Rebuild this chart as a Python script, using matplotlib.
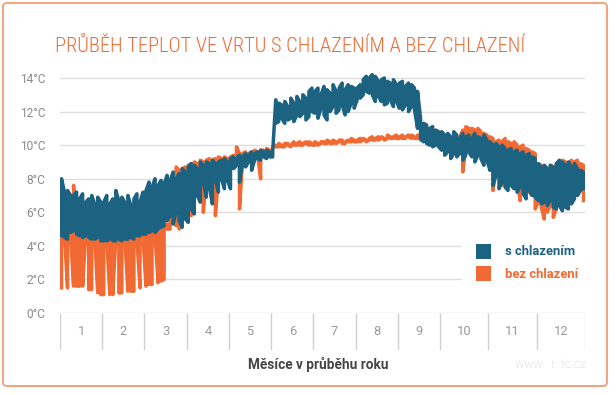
import matplotlib
matplotlib.use('Agg')
import matplotlib.pyplot as plt
from matplotlib.patches import FancyBboxPatch, Rectangle
from matplotlib.transforms import IdentityTransform
import numpy as np

# --- data (°C) ---
# každý měsíc je rozdělen na úseky, pro každý úsek max a min teploty
months = [1, 2, 3, 4, 5, 6, 7, 8, 9, 10, 11, 12]
samples_per_month = [14, 14, 14, 14, 14, 14, 14, 14, 14, 16, 16, 16]

s_chlazenim_max = [
    8.0, 7.2, 7.3, 7.0, 7.0, 7.2, 6.8, 7.1, 6.6, 6.8, 7.0, 6.5, 6.9, 6.6,
    6.6, 7.0, 6.5, 6.8, 7.3, 6.7, 6.9, 6.6, 7.0, 6.4, 6.8, 7.1, 6.6, 7.2,
    7.3, 7.8, 7.5, 8.0, 7.6, 7.9, 7.7, 8.2, 7.9, 8.4, 8.0, 8.3, 8.6, 8.4,
    8.7, 8.9, 8.8, 8.6, 9.0, 8.8, 9.0, 8.9, 9.1, 8.9, 9.0, 9.1, 9.2, 9.0,
    9.2, 9.3, 9.2, 9.4, 9.3, 9.5, 9.4, 9.6, 9.5, 9.6, 9.7, 9.6, 9.7, 9.6,
    9.6, 12.7, 12.5, 12.4, 12.6, 12.3, 12.8, 12.5, 12.9, 12.6, 13.0, 12.8, 13.2, 13.4,
    13.2, 13.4, 13.0, 13.5, 13.3, 13.1, 13.6, 13.2, 13.4, 13.7, 13.3, 13.6, 13.5, 13.4,
    13.4, 13.6, 13.9, 14.1, 14.0, 14.2, 14.1, 13.8, 13.9, 14.0, 13.8, 13.7, 13.9, 13.6,
    13.7, 13.8, 13.5, 13.7, 13.6, 13.4, 13.2, 11.6, 11.3, 11.2, 11.0, 11.1, 10.9, 10.8,
    10.8, 10.6, 10.7, 10.5, 10.8, 10.6, 10.4, 10.7, 10.5, 10.6, 10.4, 10.7, 10.5, 10.4, 10.6, 10.3,
    10.2, 10.0, 10.1, 9.9, 10.0, 9.8, 9.7, 9.8, 9.6, 9.7, 9.5, 9.6, 9.4, 9.5, 9.3, 9.2,
    8.9, 8.7, 8.8, 8.6, 8.8, 8.7, 8.9, 9.1, 9.0, 8.8, 9.0, 8.7, 8.9, 8.6, 8.5, 8.4,
]
s_chlazenim_min = [
    4.6, 4.5, 4.4, 4.8, 4.9, 4.7, 4.6, 4.5, 4.6, 4.5, 4.4, 4.4, 4.5, 4.3,
    4.3, 4.3, 4.4, 4.3, 4.3, 4.4, 4.3, 4.4, 4.4, 4.5, 4.4, 4.6, 4.6, 4.7,
    4.7, 4.8, 4.9, 4.8, 5.0, 5.1, 5.2, 5.5, 5.8, 5.3, 6.0, 5.5, 5.1, 5.6,
    5.4, 6.2, 5.9, 7.0, 6.6, 7.8, 6.9, 7.5, 6.5, 7.9, 7.2, 8.0, 7.4, 7.9,
    7.4, 8.6, 8.8, 7.8, 8.9, 8.7, 9.0, 8.5, 9.1, 9.2, 9.1, 9.3, 9.2, 9.3,
    9.3, 11.3, 11.4, 11.6, 11.3, 11.5, 11.6, 11.4, 11.8, 11.7, 11.9, 11.5, 11.7, 12.0,
    11.9, 11.6, 12.2, 11.8, 11.5, 12.0, 12.3, 11.9, 12.1, 12.4, 11.8, 12.0, 12.5, 12.2,
    12.7, 12.8, 13.0, 13.2, 13.1, 13.0, 12.6, 12.9, 12.6, 12.4, 12.5, 12.7, 12.3, 12.6,
    12.2, 12.1, 12.4, 12.0, 12.3, 12.1, 11.0, 10.4, 10.2, 10.1, 10.0, 9.9, 10.0, 9.9,
    9.7, 9.4, 9.6, 9.2, 9.5, 9.3, 9.5, 9.1, 9.4, 9.6, 9.3, 9.0, 9.4, 9.2, 8.8, 9.1,
    8.5, 7.6, 8.2, 7.4, 7.8, 7.5, 7.3, 7.6, 7.4, 7.2, 7.5, 7.1, 6.8, 7.3, 7.0, 6.9,
    6.7, 6.5, 6.6, 6.4, 6.7, 6.3, 6.2, 6.4, 6.1, 6.3, 6.2, 6.5, 6.8, 7.0, 7.3, 7.4,
]

bez_chlazeni_max = [
    5.6, 4.8, 4.8, 4.8, 7.6, 4.8, 4.8, 4.7, 4.8, 4.8, 4.7, 4.7, 4.7, 4.6,
    4.6, 4.6, 4.6, 4.5, 4.5, 4.5, 4.5, 4.5, 4.5, 4.6, 4.6, 4.6, 4.7, 4.7,
    4.8, 4.8, 4.8, 4.9, 4.9, 5.0, 5.1, 5.3, 6.5, 7.8, 8.7, 8.5, 8.6, 8.7,
    8.8, 8.9, 9.0, 8.9, 9.1, 9.0, 9.1, 9.2, 9.1, 9.2, 9.3, 9.2, 9.3, 9.2,
    9.3, 9.4, 9.9, 9.5, 9.5, 9.6, 9.5, 9.6, 9.7, 9.6, 9.7, 9.7, 9.8, 9.7,
    9.9, 10.0, 10.1, 10.0, 10.1, 10.1, 10.0, 10.2, 10.1, 10.2, 10.1, 10.2, 10.2, 10.1,
    10.2, 10.1, 10.2, 10.2, 10.3, 10.2, 10.3, 10.2, 10.3, 10.3, 10.2, 10.3, 10.4, 10.3,
    10.3, 10.4, 10.4, 10.3, 10.4, 10.5, 10.4, 10.5, 10.5, 10.4, 10.6, 10.5, 10.5, 10.6,
    10.5, 10.6, 10.5, 10.6, 10.6, 10.5, 10.6, 10.5, 10.5, 10.4, 10.4, 10.3, 10.3, 10.2,
    10.4, 10.3, 10.5, 10.4, 10.3, 10.4, 10.5, 10.9, 11.1, 11.0, 11.0, 10.9, 11.0, 10.8, 10.7, 10.6,
    10.5, 10.4, 10.2, 10.3, 10.2, 10.4, 10.2, 10.1, 10.2, 10.0, 9.9, 10.0, 9.8, 9.7, 9.6, 9.5,
    8.9, 8.8, 8.7, 8.6, 8.8, 8.7, 8.9, 9.0, 9.1, 9.0, 8.9, 9.1, 9.0, 9.1, 8.9, 8.8,
]
bez_chlazeni_min = [
    1.5, 4.6, 1.5, 4.6, 1.6, 1.6, 1.6, 1.6, 4.6, 1.4, 1.4, 4.5, 1.2, 1.1,
    1.1, 4.4, 1.1, 1.1, 4.4, 1.2, 1.2, 4.4, 1.3, 1.3, 1.3, 4.4, 1.5, 4.5,
    1.6, 1.7, 1.7, 4.6, 1.8, 1.9, 2.0, 5.0, 5.0, 5.4, 5.2, 5.0, 5.8, 6.3,
    6.5, 5.8, 7.6, 8.0, 7.8, 6.0, 8.1, 7.9, 8.0, 5.8, 8.1, 8.3, 8.4, 8.5,
    8.7, 9.0, 9.1, 6.2, 9.1, 9.2, 9.2, 9.3, 9.3, 9.4, 8.0, 9.4, 9.5, 9.5,
    9.8, 9.9, 9.9, 9.9, 9.9, 10.0, 9.9, 10.0, 10.0, 10.0, 10.0, 10.1, 10.0, 10.0,
    10.0, 10.0, 10.1, 10.1, 10.1, 10.1, 10.1, 10.1, 10.2, 10.1, 10.1, 10.2, 10.2, 10.2,
    10.2, 10.2, 10.3, 10.2, 10.3, 10.3, 10.3, 10.3, 10.4, 10.3, 10.4, 10.4, 10.4, 10.4,
    10.4, 10.4, 10.4, 10.5, 10.4, 10.4, 10.4, 10.3, 10.3, 10.2, 10.2, 10.1, 10.1, 10.0,
    9.8, 9.9, 9.7, 9.9, 9.8, 9.7, 9.8, 8.4, 9.9, 10.0, 9.8, 9.9, 9.7, 9.8, 9.6, 9.5,
    8.8, 7.3, 8.5, 8.2, 7.6, 8.4, 8.0, 7.9, 8.1, 7.8, 6.7, 7.6, 7.4, 7.2, 7.0, 6.2,
    6.6, 6.3, 5.6, 6.0, 6.4, 5.7, 6.2, 6.5, 6.1, 6.8, 7.0, 7.2, 7.4, 7.5, 7.3, 6.7,
]

y_ticks = [0, 2, 4, 6, 8, 10, 12, 14]

title = "PRŮBĚH TEPLOT VE VRTU S CHLAZENÍM A BEZ CHLAZENÍ"
x_label = "Měsíce v průběhu roku"
series_names = ["s chlazením", "bez chlazení"]

BLUE = "#1c6382"
ORANGE = "#f26a33"

plt.rcParams['font.family'] = ['Roboto', 'DejaVu Sans']

W, H = 616, 395
fig = plt.figure(figsize=(W / 100, H / 100), dpi=100)


def fx(px):
    return px / W


def fy(py):
    return 1 - py / H


def envelope(lo, hi):
    # kreslí každý úsek jako svislý tah min -> max, střídavě nahoru a dolů
    lo = np.asarray(lo)
    hi = np.asarray(hi)
    k = np.arange(len(lo))
    xs = np.repeat(k + 0.5, 2)
    ys = np.empty(2 * len(lo))
    up = k % 2 == 0
    ys[0::2] = np.where(up, lo, hi)
    ys[1::2] = np.where(up, hi, lo)
    return xs, ys


# main plot area: 0 °C at y=313 px, 14 °C at y=78 px
per_deg = (313 - 78) / 14
y_top = 14.6
ax = fig.add_axes([fx(60), fy(313), (585 - 60) / W, y_top * per_deg / H])
n = sum(samples_per_month)

xo, yo = envelope(bez_chlazeni_min, bez_chlazeni_max)
xb, yb = envelope(s_chlazenim_min, s_chlazenim_max)
ax.plot(xo, yo, color=ORANGE, lw=2.5, zorder=3)
ax.plot(xb, yb, color=BLUE, lw=2.5, zorder=4)
ax.set_xlim(0, n)
ax.set_ylim(0, y_top)
ax.set_yticks(y_ticks)
ax.set_yticklabels([f"{v}°C" for v in y_ticks])
ax.set_xticks([])
ax.grid(axis='y', color='#dedede', lw=1)
ax.set_axisbelow(True)
for s in ax.spines.values():
    s.set_visible(False)
ax.tick_params(axis='y', length=0, pad=10.5, labelsize=8.6, labelcolor='#8a8a8a')

# month strip under the plot
edges = np.concatenate([[0], np.cumsum(samples_per_month)])
ax2 = fig.add_axes([fx(60), fy(350), (585 - 60) / W, 37 / H])
ax2.set_xlim(0, n)
ax2.set_ylim(0, 1)
ax2.axis('off')
ax2.vlines(edges, 0, 1, color='#cfcfcf', lw=1)
for m, a, b in zip(months, edges[:-1], edges[1:]):
    ax2.text((a + b) / 2, 0.5, str(m), ha='center', va='center', fontsize=9.3,
             color='#999999')

fig.text(fx(318), fy(364), x_label, ha='center', va='center', fontsize=9.8,
         fontweight='bold', color='#454545')
fig.text(fx(586), fy(364), "www.  r  tc.cz", ha='right', va='center', fontsize=8.8,
         color='#cfcfcf', fontweight='light')

# legend
fig.add_artist(Rectangle((fx(462), fy(292)), (590 - 462) / W, 54 / H,
                         transform=fig.transFigure, facecolor='white', edgecolor='none', zorder=5))
for i, (name, col) in enumerate(zip(series_names, [BLUE, ORANGE])):
    top = 244 + i * 22
    fig.add_artist(Rectangle((fx(476), fy(top + 15)), 15 / W, 15 / H,
                             transform=fig.transFigure, facecolor=col, edgecolor='none', zorder=6))
    fig.text(fx(505), fy(top + 8), name, ha='left', va='center', fontsize=9.4,
             fontweight='bold', color=col, zorder=7)

# title
t = fig.text(fx(55), fy(52), title, ha='left', va='baseline', fontsize=19,
             color=ORANGE, family=['Roboto Condensed', 'DejaVu Sans'], fontweight='light')
fig.canvas.draw()
bb = t.get_window_extent()
t.set_fontsize(19 * 470 / bb.width)

# frame
fig.add_artist(FancyBboxPatch((3, H - 386), 604, 383, boxstyle="round,pad=0,rounding_size=4",
                              transform=IdentityTransform(), facecolor='none',
                              edgecolor='#f5a27c', lw=1.4))

fig.savefig("out.png", dpi=100)
